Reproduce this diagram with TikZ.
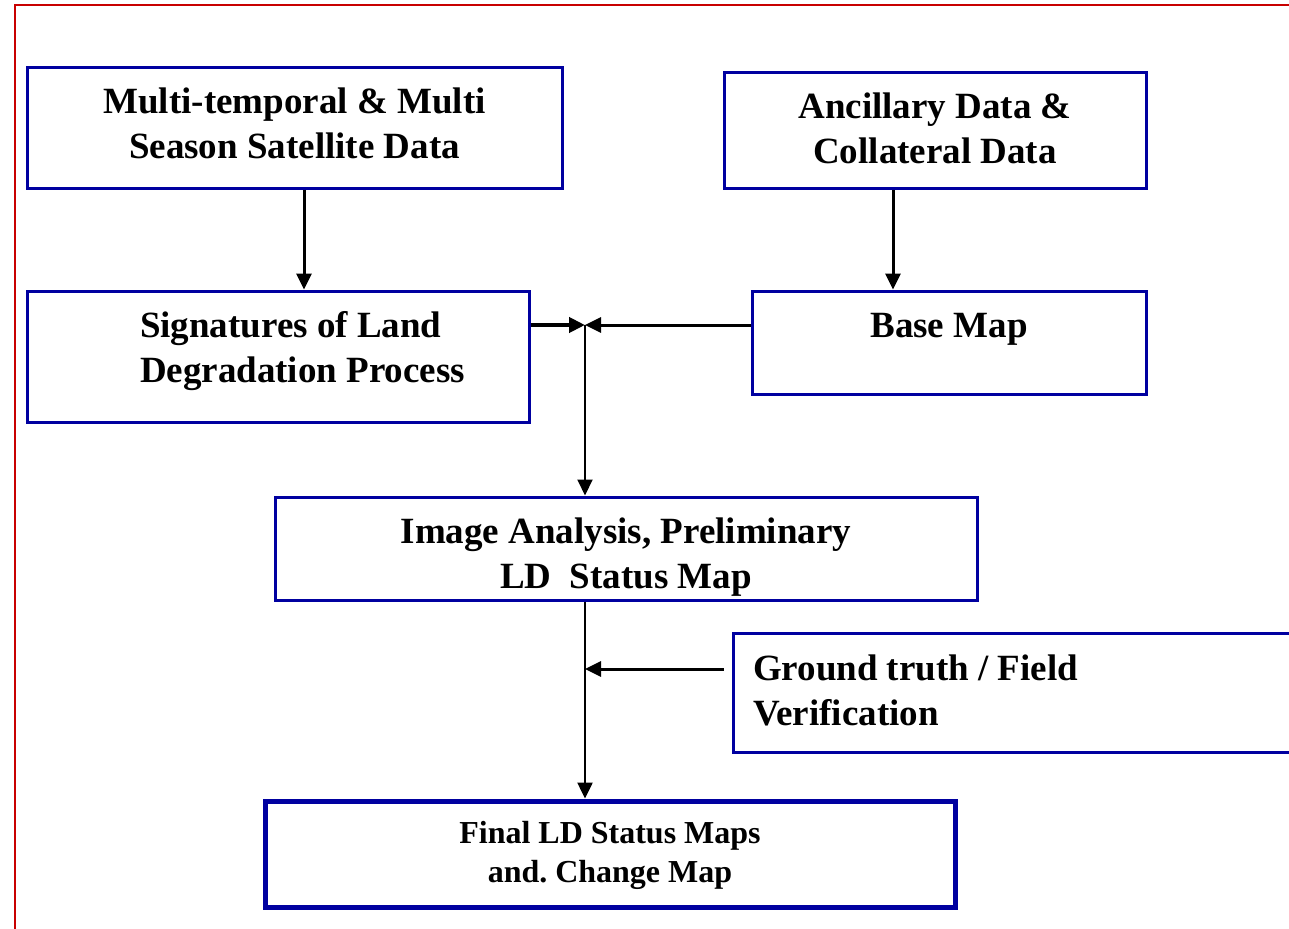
\documentclass[tikz,border=0pt]{standalone}
\usepackage{fontspec}
\setmainfont{Liberation Serif}
\usetikzlibrary{arrows.meta}
\definecolor{boxblue}{RGB}{0,0,160}
\definecolor{framered}{RGB}{200,0,0}

\begin{document}
\begin{tikzpicture}[x=1pt,y=1pt,->,>={Triangle[length=16pt,width=15pt]},
                    line width=3pt,
                    font=\bfseries\fontsize{37}{45}\selectfont]
  \tikzstyle{block}=[draw=boxblue,line width=3pt,inner sep=0pt,
                     align=flush center,text height=25pt]

  \useasboundingbox (0,0) rectangle (1289,-928);
  \draw[framered,line width=2.5pt,-] (15,-940) |- (1300,-5);

  \node[block,minimum width=535pt,minimum height=120pt,text width=535pt,
        text depth=53pt] (sat) at (294.5,-128)
    {Multi-temporal \& Multi\\Season Satellite Data};
  \node[block,minimum width=422pt,minimum height=115pt,text width=422pt,
        text depth=48pt] (anc) at (935,-130.5)
    {Ancillary Data \&\\Collateral Data};
  \node[block,minimum width=502pt,minimum height=131pt,text width=376pt,
        align=flush left,text depth=64pt] (sig) at (278,-356.5)
    {\hspace*{50pt}Signatures of Land\\\hspace*{50pt}Degradation Process};
  \node[block,minimum width=394pt,minimum height=103pt,text depth=36pt]
    (base) at (949,-342.5) {Base Map};
  \node[block,minimum width=702pt,minimum height=103pt,text width=702pt,
        text depth=36pt] (img) at (626,-548.5)
    {Image Analysis, Preliminary\\LD\ \ Status Map};
  \node[block,minimum width=600pt,minimum height=119pt,text width=560pt,
        align=flush left,inner xsep=20pt,text depth=50pt] (gt) at (1033,-692.5)
    {Ground truth / Field\\Verification};
  \node[block,line width=5pt,minimum width=690pt,minimum height=106pt,
        text width=690pt,text height=22pt,text depth=43pt,
        font=\bfseries\fontsize{32}{39}\selectfont] (fin) at (610,-854)
    {Final LD Status Maps\\and.\ Change Map};

  \coordinate (jn) at (585,-325);
  \coordinate (satout) at ([xshift=9.5pt]sat.south);
  \coordinate (ancout) at ([xshift=-42pt]anc.south);
  \coordinate (gtout) at ([shift={(-8pt,23.5pt)}]gt.west);

  \draw (satout) -- (satout |- sig.north);
  \draw (ancout) -- (ancout |- base.north);
  \draw[line width=4.5pt] (jn -| sig.east) -- (jn);
  \draw (jn -| base.west) -- (jn);
  \draw[line width=2pt] (jn) -- (jn |- img.north);
  \draw[line width=2.5pt] (jn |- img.south) -- (jn |- fin.north);
  \draw (gtout) -- (gtout -| jn);
\end{tikzpicture}
\end{document}
